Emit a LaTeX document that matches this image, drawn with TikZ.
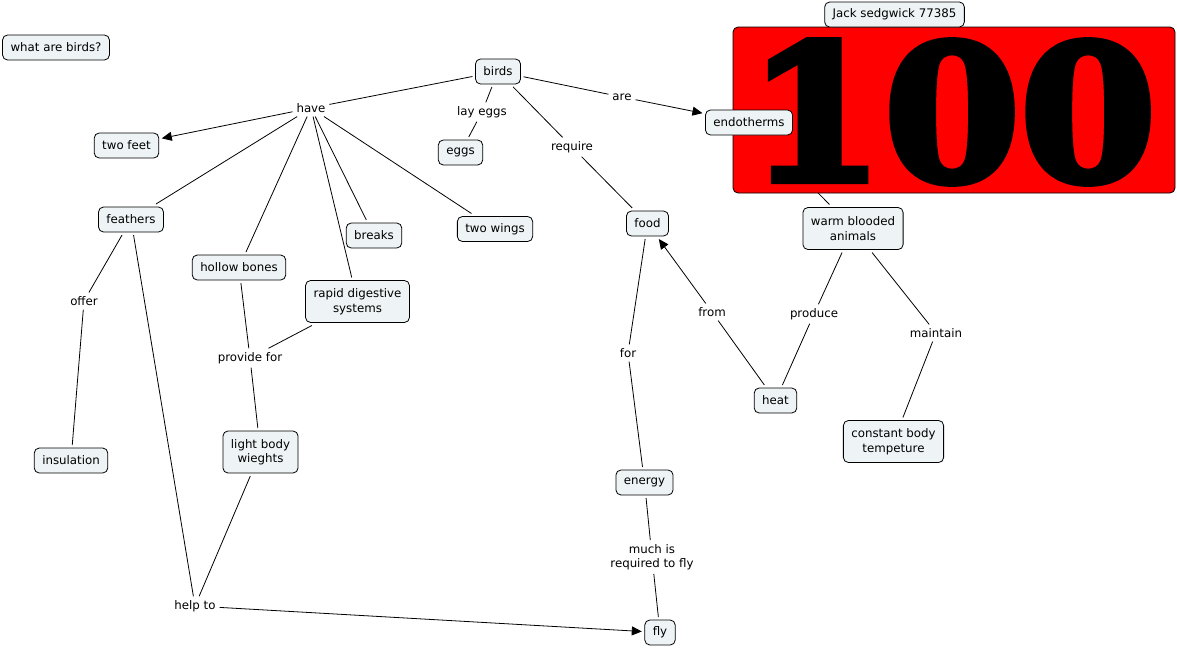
\documentclass[tikz,border=0pt]{standalone}
\usepackage{fontspec}
\setmainfont{DejaVu Sans}
\newfontfamily\bigserif[FakeBold=4]{DejaVu Serif Bold}
\usetikzlibrary{arrows.meta,positioning}
\definecolor{cmapfill}{RGB}{238,243,245}
\definecolor{cmapred}{RGB}{255,0,0}

\begin{document}
\begin{tikzpicture}[x=1pt, y=-1pt,
  every node/.style={font=\fontsize{11.8}{14.5}\selectfont},
  concept/.style={draw=black, fill=cmapfill, rounded corners=5pt,
                  minimum height=25pt, inner xsep=8pt, align=center,
                  outer sep=3pt, line width=0.8pt},
  tall/.style={minimum height=42pt},
  link/.style={fill=white, inner sep=1pt, outer sep=3pt, align=center},
  conn/.style={line width=0.8pt},
  arrow/.style={conn, -{Triangle[length=10pt,width=9pt]}},
]
\useasboundingbox (0,0) rectangle (1177,649);

%% Concepts
\node[concept] (question) at (56,47.5) {what are birds?};
\node[concept] (birds) at (498,71.5) {birds};
\node[concept] (feet) at (126.5,145.5) {two feet};
\node[concept] (eggs) at (460.5,152.5) {eggs};
\node[concept] (food) at (647.5,223.5) {food};
\node[concept] (feathers) at (131,219.5) {feathers};
\node[concept] (bones) at (239,267.5) {hollow bones};
\node[concept, tall] (digest) at (357.5,301.5) {rapid digestive\\systems};
\node[concept] (breaks) at (374,235.5) {breaks};
\node[concept] (wings) at (495,229) {two wings};
\node[concept] (insul) at (71,460.5) {insulation};
\node[concept, tall] (light) at (260.5,452) {light body\\wieghts};
\node[concept] (fly) at (660,632.5) {fly};
\node[concept] (energy) at (644.5,482.5) {energy};
\node[concept] (heat) at (775.5,400.5) {heat};
\node[concept, tall] (warm) at (853,228.5) {warm blooded\\animals};
\node[concept, tall] (constant) at (893.5,441.5) {constant body\\tempeture};

%% Linking phrases
\node[link] (have) at (311,108) {have};
\node[link] (layeggs) at (482,112) {lay eggs};
\node[link] (are) at (622,97) {are};
\node[link] (require) at (572,147) {require};
\node[link] (offer) at (84,301) {offer};
\node[link] (provide) at (250,358) {provide for};
\node[link] (helpto) at (195,606) {help to};
\node[link] (for) at (628,353) {for};
\node[link] (much) at (652,557) {much is\\required to fly};
\node[link] (from) at (712,312) {from};
\node[link] (produce) at (814,314) {produce};
\node[link] (maintain) at (936,333) {maintain};

%% Hidden link behind the score
\coordinate (endoc) at (749,122.5);
\draw[conn] (endoc) -- (warm);

%% Score
\node[draw=black, fill=cmapred, rounded corners=5pt, line width=0.8pt,
      minimum width=442pt, minimum height=166pt] (score) at (954,110) {};
\node[inner sep=0pt, font=\bigserif\fontsize{188}{188}\selectfont]
  (scoretext) at (952,112) {\scalebox{1.04}[1]{100}};
\node[concept] (endo) at (749,122.5) {endotherms};
\node[concept] (author) at (894.5,14.5) {Jack sedgwick 77385};

%% Connectors
\draw[conn] (birds) -- (have);
\draw[arrow] (have) -- (feet);
\draw[conn] (have) -- (feathers);
\draw[conn] (have) -- (bones);
\draw[conn] (have) -- (digest);
\draw[conn] (have) -- (breaks);
\draw[conn] (have) -- (wings);
\draw[conn] (birds) -- (layeggs);
\draw[conn] (layeggs) -- (eggs);
\draw[conn] (birds) -- (are);
\draw[arrow] (are) -- (endo);
\draw[conn] (birds) -- (require);
\draw[conn] (require) -- (food);
\draw[conn] (feathers) -- (offer);
\draw[conn] (offer) -- (insul);
\draw[conn] (feathers) -- (helpto);
\draw[conn] (bones) -- (provide);
\draw[conn] (digest) -- (provide);
\draw[conn] (provide) -- (light);
\draw[conn] (light) -- (helpto);
\draw[arrow] (helpto) -- (fly);
\draw[conn] (food) -- (for);
\draw[conn] (for) -- (energy);
\draw[conn] (energy) -- (much);
\draw[conn] (much) -- (fly);
\draw[conn] (heat) -- (from);
\draw[arrow] (from) -- (food);
\draw[conn] (warm) -- (produce);
\draw[conn] (produce) -- (heat);
\draw[conn] (warm) -- (maintain);
\draw[conn] (maintain) -- (constant);

\end{tikzpicture}
\end{document}
